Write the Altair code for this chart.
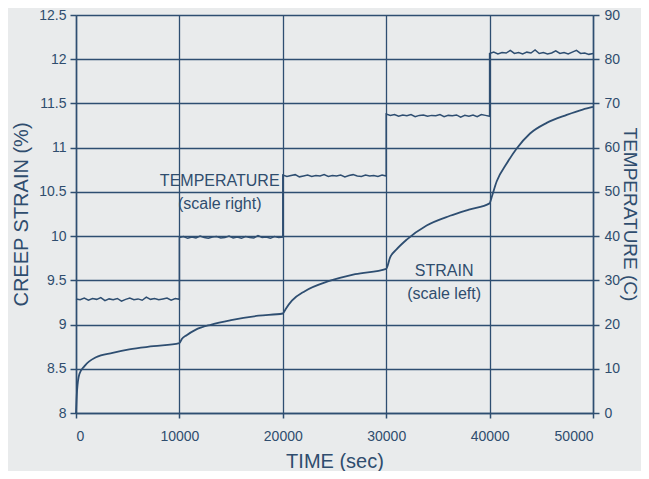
import altair as alt
import pandas as pd

# ---- data ----
strain_time = [0, 100, 330, 820, 1930, 3540, 5150, 7500, 10000,
               10250, 10700, 11550, 13100, 15000, 17660, 20000,
               20300, 20880, 22170, 24420, 27000, 30000,
               30380, 31000, 31980, 33910, 36170, 38000, 40000,
               40200, 40690, 41650, 42620, 43910, 45520, 47460, 49000, 50000]
strain_val = [8.0, 8.25, 8.44, 8.53, 8.63, 8.68, 8.72, 8.755, 8.79,
              8.84, 8.88, 8.94, 9.00, 9.05, 9.10, 9.125,
              9.18, 9.27, 9.38, 9.49, 9.57, 9.63,
              9.76, 9.85, 9.96, 10.12, 10.23, 10.30, 10.37,
              10.44, 10.62, 10.82, 10.99, 11.16, 11.28, 11.37, 11.43, 11.46]

seg_start = [0, 10000, 20000, 30000, 40000]
seg_step = 400
temp_seg1 = [25.8, 25.6, 26.0, 25.5, 25.9, 25.7, 26.1, 25.4, 25.8, 25.6, 25.9, 25.3, 25.7,
             26.0, 25.6, 25.8, 25.5, 26.2, 25.7, 25.9, 25.6, 25.8, 26.0, 25.5, 25.9, 25.7]
temp_seg2 = [39.7, 39.9, 39.5, 39.8, 39.6, 40.0, 39.7, 39.5, 39.8, 39.9, 39.6, 39.7, 40.0,
             39.6, 39.8, 39.5, 39.9, 39.7, 39.6, 40.1, 39.7, 39.8, 39.5, 39.9, 39.7, 39.8]
temp_seg3 = [53.8, 53.5, 53.7, 53.9, 53.4, 53.6, 53.8, 53.5, 53.7, 53.6, 53.9, 53.5, 53.7,
             53.6, 53.8, 53.4, 53.7, 53.9, 53.6, 53.5, 53.8, 53.6, 53.7, 53.5, 53.8, 53.6]
temp_seg4 = [67.6, 67.3, 67.5, 67.1, 67.4, 67.2, 67.5, 67.0, 67.3, 67.4, 67.1, 67.3, 67.2,
             67.5, 67.0, 67.3, 67.2, 67.4, 66.9, 67.3, 67.1, 67.4, 67.0, 67.5, 67.3, 67.1]
temp_seg5 = [81.3, 81.6, 81.2, 81.5, 81.4, 82.0, 81.3, 81.5, 81.2, 81.6, 81.4, 82.1, 81.3,
             81.5, 81.2, 81.4, 81.9, 81.3, 81.5, 81.2, 81.6, 82.0, 81.3, 81.4, 81.1, 81.3]

strain_ticks = [8, 8.5, 9, 9.5, 10, 10.5, 11, 11.5, 12, 12.5]
temp_ticks = [0, 10, 20, 30, 40, 50, 60, 70, 80, 90]
time_ticks = [0, 10000, 20000, 30000, 40000, 50000]

notes_text = ["TEMPERATURE", "(scale right)", "STRAIN", "(scale left)"]
notes_time = [13900, 13900, 35600, 35600]
notes_strain = [10.62, 10.36, 9.61, 9.35]

# ---- build tables ----
strain_df = pd.DataFrame({"t": strain_time, "v": strain_val})
rows = []
k = 0
for s, seg in zip(seg_start, [temp_seg1, temp_seg2, temp_seg3, temp_seg4, temp_seg5]):
    for i, val in enumerate(seg):
        rows.append({"t": s + i * seg_step, "c": val, "i": k})
        k += 1
temp_df = pd.DataFrame(rows)
notes_df = pd.DataFrame({"t": notes_time, "v": notes_strain, "txt": notes_text})

INK = "#2e4e71"
TXT = "#2f4d6e"
FONT = "Liberation Sans"

xenc = alt.X("t:Q", scale=alt.Scale(domain=[0, 50000], nice=False),
             axis=alt.Axis(values=time_ticks, format="d", title="TIME (sec)",
                           grid=True, tickSize=5, labelPadding=11,
                           titleY=54, titleBaseline="alphabetic", titleFontSize=20))

strain_line = alt.Chart(strain_df).mark_line(color=INK, strokeWidth=1.8, interpolate="monotone").encode(
    x=xenc,
    y=alt.Y("v:Q", scale=alt.Scale(domain=[8, 12.5], nice=False, zero=False),
            axis=alt.Axis(values=strain_ticks, format="~g", title="CREEP STRAIN (%)",
                          orient="left", grid=True, tickSize=6, labelPadding=4,
                          titleX=-49, titleBaseline="alphabetic", titleFontSize=20)),
)

notes = alt.Chart(notes_df).mark_text(font=FONT, fontSize=16, color=TXT, align="center", baseline="middle").encode(
    x="t:Q",
    y=alt.Y("v:Q", scale=alt.Scale(domain=[8, 12.5], nice=False, zero=False), axis=None),
    text="txt:N",
)

temp_line = alt.Chart(temp_df).mark_line(color=INK, strokeWidth=1.5).encode(
    x="t:Q",
    y=alt.Y("c:Q", scale=alt.Scale(domain=[0, 90], nice=False),
            axis=alt.Axis(values=temp_ticks, title="TEMPERATURE (C)", orient="right",
                          grid=False, tickSize=6, labelPadding=5,
                          titleX=30, titleBaseline="alphabetic", titleFontSize=19)),
    order="i:Q",
)

chart = alt.layer(strain_line, notes, temp_line).resolve_scale(y="independent").properties(
    width=517, height=398,
    autosize=alt.AutoSizeParams(type="none"),
    padding={"left": 68, "top": 7, "right": 48, "bottom": 58},
    background="#e9ebec",
).configure_view(stroke=None).configure_axis(
    domainColor=INK, domainWidth=1.5, tickColor=INK, tickWidth=1.5,
    gridColor=INK, gridWidth=1.3, gridOpacity=1,
    labelFont=FONT, labelFontSize=14, labelColor=TXT,
    titleFont=FONT, titleColor=TXT, titleFontWeight="normal",
)

chart.save("out.html", embed_options={"renderer": "svg", "actions": False})
